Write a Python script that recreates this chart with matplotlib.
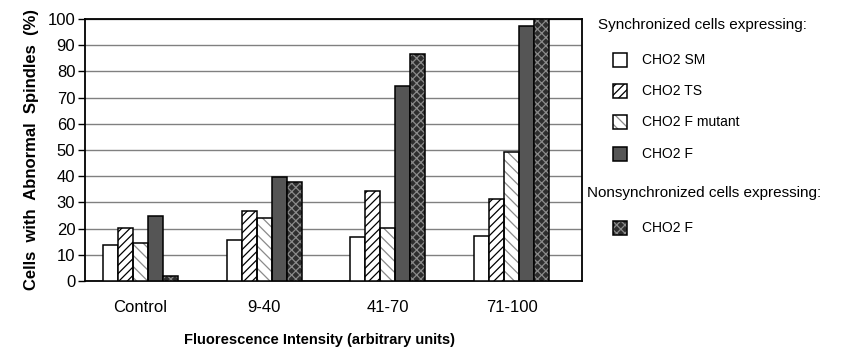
import numpy as np
import matplotlib
matplotlib.use("Agg")
import matplotlib.pyplot as plt
from matplotlib.patches import Rectangle

plt.rcParams['font.family'] = ['Liberation Sans', 'DejaVu Sans']
plt.rcParams['hatch.linewidth'] = 0.9

groups = ["Control", "9-40", "41-70", "71-100"]
sm     = [13.8, 15.6, 16.9, 17.0]
ts     = [20.4, 26.6, 34.2, 31.4]
mutant = [14.6, 23.9, 20.4, 49.4]
f_sync = [25.0, 39.8, 74.4, 97.4]
f_non  = [2.0, 37.9, 86.5, 100.0]

series = [
    # values, face, hatch, hatch colour
    (sm, "white", None, None),
    (ts, "white", "////", "black"),
    (mutant, "white", "\\\\\\", "#8a8a8a"),
    (f_sync, "#555555", None, None),
    (f_non, "#2e2e2e", "xxxx", "#8a8a8a"),
]

W, H = 860, 353
fig = plt.figure(figsize=(W / 100, H / 100), dpi=100)
ax = fig.add_axes([85 / W, 1 - 281 / H, (582 - 85) / W, (281 - 19) / H])

x = np.arange(len(groups))
w = 0.121
for k, (vals, face, hatch, hc) in enumerate(series):
    pos = x + (k - 2) * w
    if hatch:
        ax.bar(pos, vals, w, color=face, hatch=hatch, edgecolor=hc, linewidth=0, zorder=3)
        ax.bar(pos, vals, w, fill=False, edgecolor="black", linewidth=1.1, zorder=4)
    else:
        ax.bar(pos, vals, w, color=face, edgecolor="black", linewidth=1.1, zorder=3)

ax.set_xlim(-0.444, 3.565)
ax.set_ylim(0, 100)
ax.set_yticks(range(0, 101, 10))
ax.yaxis.grid(True, color="#808080", linewidth=1.0, zorder=0)
ax.set_xticks(x)
ax.set_xticklabels(groups, fontsize=12)
ax.tick_params(axis="x", length=0, pad=14)
ax.tick_params(axis="y", length=5, width=1, labelsize=12, pad=2, direction="out")
for s in ax.spines.values():
    s.set_linewidth(1.3)
ax.set_ylabel("Cells  with  Abnormal  Spindles  (%)", fontsize=12, fontweight="bold", labelpad=6)
fig.text(319 / W, 1 - 340 / H, "Fluorescence Intensity (arbitrary units)",
         fontsize=10.5, fontweight="bold", ha="center", va="center")

# legend drawn by hand in pixel positions
def fx(px):
    return px / W

def fy(py):
    return 1 - py / H

fig.text(fx(598), fy(25), "Synchronized cells expressing:", fontsize=11, va="center")
fig.text(fx(587), fy(193), "Nonsynchronized cells expressing:", fontsize=11, va="center")
labels = ["CHO2 SM", "CHO2 TS", "CHO2 F mutant", "CHO2 F", "CHO2 F"]
ys = [60, 91, 122, 154, 228]
for (vals, face, hatch, hc), lab, yy in zip(series, labels, ys):
    rect = Rectangle((fx(613), fy(yy + 7)), 14 / W, 14 / H, transform=fig.transFigure,
                     facecolor=face, hatch=hatch, edgecolor=hc if hatch else "black",
                     linewidth=0 if hatch else 1.1)
    fig.add_artist(rect)
    if hatch:
        fig.add_artist(Rectangle((fx(613), fy(yy + 7)), 14 / W, 14 / H, transform=fig.transFigure,
                                 fill=False, edgecolor="black", linewidth=1.1))
    fig.text(fx(642), fy(yy), lab, fontsize=10, va="center")

fig.savefig("out.png", dpi=100)
